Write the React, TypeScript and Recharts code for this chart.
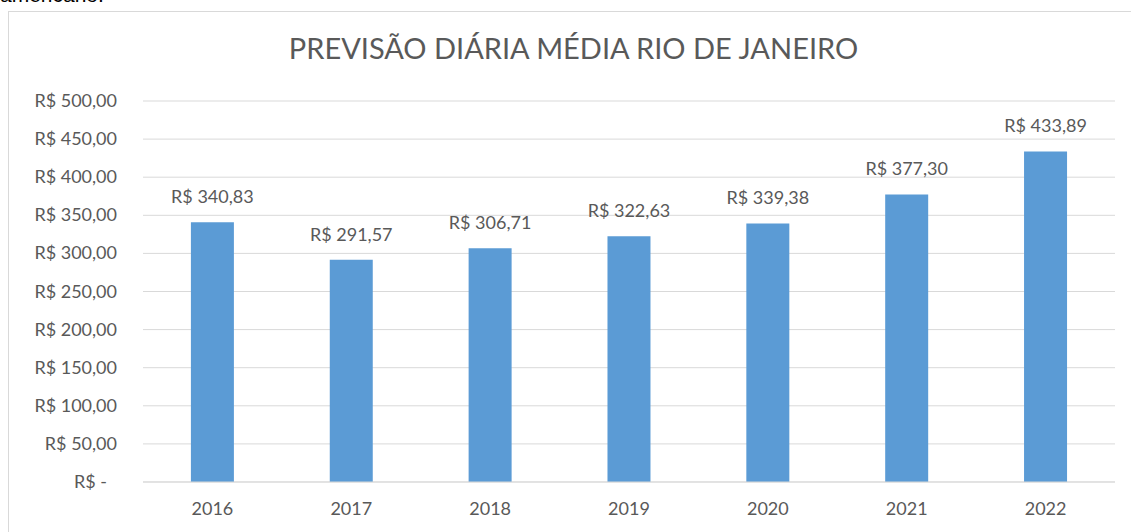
import React from "react";
import { BarChart, Bar, XAxis, YAxis, CartesianGrid, LabelList } from "recharts";

const years = ["2016", "2017", "2018", "2019", "2020", "2021", "2022"];
const dailyAverage = [340.83, 291.57, 306.71, 322.63, 339.38, 377.3, 433.89];
const yTicks = [0, 50, 100, 150, 200, 250, 300, 350, 400, 450, 500];

const data = years.map((year, i) => ({ year, value: dailyAverage[i] }));

const FONT = "Lato, 'Open Sans', sans-serif";
const TEXT = "#595959";
const GRID = "#D9D9D9";

const brl = (v: number) => "R$ " + v.toFixed(2).replace(".", ",");

function YTick(props: any) {
  const { x, y, payload } = props;
  const v = payload.value as number;
  return (
    <text x={v === 0 ? x - 10 : x} y={y} dy={6} textAnchor="end" fill={TEXT} fontSize={18} fontFamily={FONT}>
      {v === 0 ? "R$ -" : brl(v)}
    </text>
  );
}

function BarLabel(props: any) {
  const { x, y, width, value } = props;
  return (
    <text x={x + width / 2} y={y - 19} textAnchor="middle" fill={TEXT} fontSize={18} fontFamily={FONT}>
      {brl(Number(value))}
    </text>
  );
}

export default function App() {
  return (
    <div style={{ position: "relative", width: 1131, height: 532, overflow: "hidden", background: "#fff" }}>
      <style>{"body{margin:0}"}</style>
      <div
        style={{
          position: "absolute",
          left: 0,
          top: -17,
          fontFamily: "Arial, 'Liberation Sans', sans-serif",
          fontSize: 21,
          color: "#000",
        }}
      >
        americano.
      </div>
      <div
        style={{
          position: "absolute",
          left: 8,
          top: 11,
          width: 1140,
          height: 540,
          border: `1px solid ${GRID}`,
          boxSizing: "border-box",
        }}
      />
      <div
        style={{
          position: "absolute",
          left: 0,
          width: 1131,
          top: 30,
          textAlign: "center",
          fontFamily: FONT,
          fontSize: 29,
          fontWeight: 400,
          color: TEXT,
          paddingLeft: 16,
          boxSizing: "border-box",
        }}
      >
        PREVISÃO DIÁRIA MÉDIA RIO DE JANEIRO
      </div>
      <div style={{ position: "absolute", left: 0, top: 0 }}>
        <BarChart
          width={1131}
          height={532}
          data={data}
          margin={{ top: 101, right: 16, bottom: 0, left: 0 }}
          barCategoryGap="34.5%"
        >
          <CartesianGrid vertical={false} stroke={GRID} />
          <XAxis
            dataKey="year"
            height={50}
            tickSize={0}
            tickMargin={20}
            axisLine={{ stroke: GRID }}
            tick={{ fill: TEXT, fontSize: 18, fontFamily: FONT }}
          />
          <YAxis
            width={143}
            domain={[0, 500]}
            ticks={yTicks}
            interval={0}
            axisLine={false}
            tickLine={false}
            tickSize={0}
            tickMargin={26}
            tick={<YTick />}
          />
          <Bar dataKey="value" fill="#5B9BD5" isAnimationActive={false}>
            <LabelList dataKey="value" content={<BarLabel />} />
          </Bar>
        </BarChart>
      </div>
    </div>
  );
}
